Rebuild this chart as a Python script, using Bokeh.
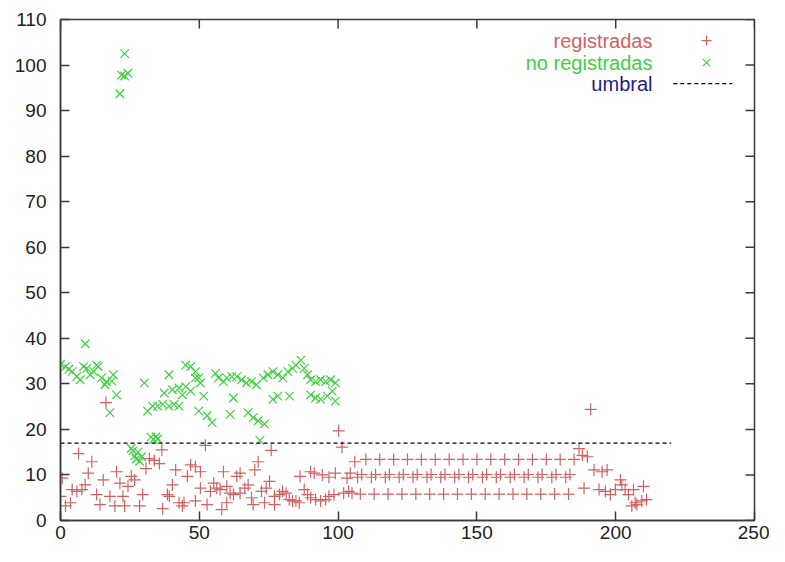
from bokeh.plotting import figure
from bokeh.models import Range1d, FixedTicker, Label
from bokeh.embed import file_html
from bokeh.resources import INLINE

# ---- data ----
reg_x = [0, 0.6, 1.8, 3.6, 4.2, 5.9, 6.5, 7.7, 8.9, 10, 11.3, 13, 14.2, 15.4, 16.4, 17.8, 19.6,
         20.2, 21.4, 22.5, 23.1, 24.3, 25.5, 26.7, 28.5, 29.6, 30.8, 32, 33.8, 35.6, 36.5, 36.8,
         38.5, 39.2, 40.3, 41.5, 42.7, 43.9, 44.5, 45.7, 46.9, 48.6, 48.6, 50.4, 50.4, 52.2, 52.8,
         54, 55.2, 56.3, 57.5, 58.1, 58.7, 59.9, 59.9, 61.1, 62.3, 63.5, 64.7, 64.7, 66.4, 67.6,
         68.8, 69.4, 70, 71.2, 72.4, 73.5, 74.1, 75.3, 75.9, 77.1, 77.1, 78.9, 80, 81.3, 82.4,
         83.6, 84.8, 86, 86.3, 87.8, 89, 90.1, 90.1, 91.4, 91.9, 93.7, 94.3, 95.5, 96.7, 96.7,
         98.5, 99, 100.2, 101.4, 102, 103.2, 103.8, 104.4, 105,
         # upper row
         106, 110, 115, 120, 125, 130, 135, 140, 145, 150, 155, 160, 165, 170, 175, 180, 185,
         # middle row (pairs)
         107, 108.5, 112, 113.5, 117, 118.5, 122, 123.5, 127, 128.5, 132, 133.5, 137, 138.5,
         142, 143.5, 147, 148.5, 152, 153.5, 157, 158.5, 162, 163.5, 167, 168.5, 172, 173.5,
         177, 178.5, 182, 183.5,
         # lower row
         108, 113, 118, 123, 128, 133, 138, 143, 148, 153, 158, 163, 168, 173, 178, 183,
         # tail
         186.8, 188, 189.8, 191, 188.6, 192.2, 195.1, 196.9, 194, 196.3, 198.1, 199.9, 201.7,
         202.2, 203.4, 204.6, 206.4, 210, 205.8, 207.6, 209.4, 211.1, 207]
reg_y = [5.3, 9.3, 3.2, 3.9, 6.8, 6.4, 14.7, 6.8, 7.8, 10.4, 12.9, 5.7, 3.5, 8.9, 25.9, 5.3, 3.2,
         10.7, 8.2, 5.3, 3.2, 7.5, 9.7, 8.9, 3.2, 5.7, 11.4, 13.6, 13.2, 12.5, 15.5, 2.6,
         5.7, 5.3, 7.8, 11.1, 3.9, 3.2, 3.9, 9.7, 12.2, 11.8, 4.3, 10.7, 7.1, 16.5, 3.5,
         6.4, 8.2, 7.1, 6.8, 2.4, 10.7, 7.5, 3.9, 6.0, 5.7, 9.7, 10.4, 6.0, 7.1, 7.8,
         5.0, 3.5, 11.1, 12.9, 6.4, 3.9, 7.1, 8.6, 15.4, 5.3, 3.5, 5.7, 6.4, 6.0, 4.6,
         4.3, 4.3, 3.9, 9.7, 6.8, 5.7, 10.7, 5.0, 10.4, 4.6, 4.3, 10.0, 4.6, 9.5, 5.3,
         5.7, 10.4, 19.7, 16.1, 6.0, 9.3, 6.4, 10.4, 6.0,
         12.9, 13.4, 13.4, 13.4, 13.4, 13.4, 13.4, 13.4, 13.4, 13.4, 13.4, 13.4, 13.4, 13.4, 13.4, 13.4, 13.4,
         9.5, 10.1, 9.5, 10.1, 9.5, 10.1, 9.5, 10.1, 9.5, 10.1, 9.5, 10.1, 9.5, 10.1,
         9.5, 10.1, 9.5, 10.1, 9.5, 10.1, 9.5, 10.1, 9.5, 10.1, 9.5, 10.1, 9.5, 10.1,
         9.5, 10.1, 9.5, 10.1,
         5.8, 5.8, 5.8, 5.8, 5.8, 5.8, 5.8, 5.8, 5.8, 5.8, 5.8, 5.8, 5.8, 5.8, 5.8, 5.8,
         15.8, 14.3, 14.0, 24.4, 7.1, 11.1, 10.7, 11.1, 6.8, 6.4, 5.7, 6.8, 8.9,
         7.8, 6.8, 5.7, 6.8, 7.5, 3.2, 3.5, 4.3, 4.6, 3.9]

noreg_x = [0, 1.8, 3, 4.2, 5.9, 7.1, 8.3, 8.9, 9.5, 10.7, 11.9, 13, 13.6, 14.8, 16, 16.6, 17.8,
           19, 20.2, 18.5, 21.4, 22, 23.1, 23.1, 24.3, 25.5, 26.1, 26.7, 27.3, 27.9, 28.5, 29.2,
           30.2, 31.4, 32.6, 33.5, 34.4, 35, 33.2, 35, 36.8, 37.4, 39.1, 39.1, 40.3, 40.9, 42.7,
           42.7, 43.9, 45.1, 45.1, 46.9, 46.9, 48.6, 48.6, 49.8, 49.8, 50.4, 51.6, 52.8, 54.6,
           55.8, 56.9, 58.7, 59.9, 61.1, 61.7, 62.3, 63.5, 65.2, 67, 67.6, 68.8, 69.4, 70.6,
           71.2, 71.8, 73, 73.5, 74.7, 76.5, 76.5, 78.3, 78.3, 80.1, 81.9, 82.5, 83.6, 84.8,
           86.6, 87.8, 89, 90.1, 90.1, 91.9, 91.9, 93.7, 93.7, 95.5, 96.1, 97.3, 97.9, 99, 99]
noreg_y = [34.3, 33.8, 33.2, 32.7, 31.6, 30.9, 33.8, 38.8, 33.4, 32.0, 32.7, 34.1, 33.8, 31.3, 29.8, 30.5, 23.7,
           32.0, 27.6, 30.6, 93.7, 97.8, 102.5, 97.6, 98.2, 15.8, 15.3, 14.2, 13.5, 15.0, 13.0, 14.0,
           30.2, 24.0, 18.3, 17.8, 18.4, 17.9, 25.1, 25.1, 25.5, 28.0, 25.1, 32.0, 28.7, 25.5, 25.1,
           29.1, 27.6, 34.1, 29.4, 33.8, 28.4, 32.7, 31.3, 31.3, 24.0, 30.2, 27.3, 23.0, 21.5,
           32.3, 31.3, 30.5, 31.3, 23.3, 31.6, 26.9, 31.6, 30.9, 30.2, 23.7, 30.5, 22.6, 29.8,
           21.9, 17.6, 31.3, 21.2, 32.0, 32.7, 26.6, 32.0, 27.3, 31.3, 32.7, 27.3, 33.4, 34.1,
           35.2, 33.4, 32.0, 30.9, 27.6, 30.5, 26.9, 30.9, 26.6, 30.5, 27.3, 30.9, 28.4, 30.2, 26.2]

umbral_value = 17
umbral_x = [0, 220]

x_ticks = [0, 50, 100, 150, 200, 250]
y_ticks = [0, 10, 20, 30, 40, 50, 60, 70, 80, 90, 100, 110]

labels = ["registradas", "no registradas", "umbral"]

# ---- styling ----
RED = "#d06262"
GREEN = "#3fd03f"
NAVY = "#1c1c84"
FONT = "Liberation Sans"
AX = "#3a3a3a"

W, H = 769, 546
BL, BR, BT, BB = 60, 15, 19, 26
TICK_PX = 9

X_MAX = x_ticks[-1]
Y_MAX = y_ticks[-1]

p = figure(width=W, height=H, output_backend="svg", toolbar_location=None,
           x_range=Range1d(0, X_MAX), y_range=Range1d(0, Y_MAX),
           min_border_left=BL, min_border_right=BR, min_border_top=BT, min_border_bottom=BB)
p.grid.visible = False
p.outline_line_color = AX
p.outline_line_width = 1.5
p.background_fill_color = "white"
p.border_fill_color = "white"

for ax in (p.xaxis[0], p.yaxis[0]):
    ax.axis_line_color = AX
    ax.axis_line_width = 1.5
    ax.major_tick_in = TICK_PX
    ax.major_tick_out = 0
    ax.major_tick_line_color = AX
    ax.major_tick_line_width = 1.5
    ax.minor_tick_line_color = None
    ax.major_label_text_font = FONT
    ax.major_label_text_font_size = "19px"
    ax.major_label_text_color = "#222222"
p.xaxis[0].ticker = FixedTicker(ticks=x_ticks)
p.yaxis[0].ticker = FixedTicker(ticks=y_ticks)
p.xaxis[0].major_label_standoff = 5
p.yaxis[0].major_label_standoff = 14

# mirrored inward ticks on the top and right edges (gnuplot border style)
frame_w = W - BL - BR
frame_h = H - BT - BB
dx = X_MAX * TICK_PX / frame_w
dy = Y_MAX * TICK_PX / frame_h
p.segment(x0=x_ticks, y0=[Y_MAX] * len(x_ticks), x1=x_ticks, y1=[Y_MAX - dy] * len(x_ticks),
          line_color=AX, line_width=1.5)
p.segment(x0=[X_MAX] * len(y_ticks), y0=y_ticks, x1=[X_MAX - dx] * len(y_ticks), y1=y_ticks,
          line_color=AX, line_width=1.5)

# data
p.scatter(reg_x, reg_y, marker="cross", size=12, line_color=RED, line_width=1.2)
p.scatter(noreg_x, noreg_y, marker="x", size=12, line_color=GREEN, line_width=1.2)
p.line(umbral_x, [umbral_value, umbral_value], line_color="black", line_width=1.2,
       line_dash="4 3")

# gnuplot-style key (text then sample), placed by fractions of the ranges
text_x = X_MAX * 0.853
mark_x = X_MAX * 0.931
rows = [Y_MAX * 0.958, Y_MAX * 0.914, Y_MAX * 0.872]
colors = [RED, GREEN, NAVY]
for lab, yy, col in zip(labels, rows, colors):
    p.add_layout(Label(x=text_x, y=yy, text=lab, text_align="right", text_baseline="middle",
                       text_font=FONT, text_font_size="20px", text_color=col))
p.scatter([mark_x], [rows[0]], marker="cross", size=10, line_color=RED, line_width=1.2)
p.scatter([mark_x], [rows[1]], marker="x", size=10, line_color=GREEN, line_width=1.2)
p.line([X_MAX * 0.883, X_MAX * 0.968], [rows[2], rows[2]], line_color="black",
       line_width=1.2, line_dash="4 3")

open("out.html", "w").write(file_html(p, INLINE))
